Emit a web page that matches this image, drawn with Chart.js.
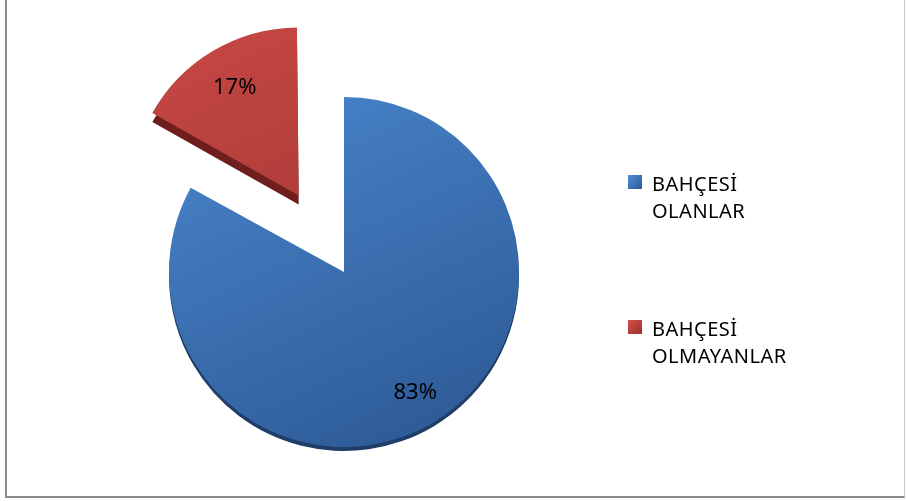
<!DOCTYPE html>
<html>
<head>
<meta charset="utf-8">
<script src="https://cdn.jsdelivr.net/npm/chart.js@4/dist/chart.umd.min.js"></script>
<style>
  body { margin: 0; background: #fff; }
  #wrap { position: relative; width: 907px; height: 501px; overflow: hidden; }
  #frame {
    position: absolute; left: 5px; top: -3px; width: 900px; height: 501px;
    border-left: 2px solid #8c8c8c; border-bottom: 2px solid #8c8c8c;
    border-right: 1px solid #c8c8c8; box-sizing: border-box;
  }
  #legend { position: absolute; left: 628px; top: 0; font-family: "Noto Sans", sans-serif; font-size: 20px; letter-spacing: 0.5px; color: #000; }
  .item { position: absolute; left: 0; width: 260px; line-height: 27px; }
  .box { position: absolute; left: 0; top: 5px; width: 14px; height: 14px; }
  .txt { position: absolute; left: 24px; top: 0; white-space: nowrap; }
</style>
</head>
<body>
<div id="wrap">
  <div id="frame"></div>
  <canvas id="pie" width="907" height="501"></canvas>
  <div id="legend"></div>
</div>
<script>
// Data
const categories = [['BAHÇESİ', 'OLANLAR'], ['BAHÇESİ', 'OLMAYANLAR']];
const shares = [83, 17];
const shareLabels = ['83%', '17%'];

const topColors = ['#5190da', '#d44e4b'];
const bottomColors = ['#2d5a96', '#9c3330'];
const sideColors = ['#1f3d68', '#6e1f1d'];

// gradient fill for each slice
function sliceFill(context) {
    const chart = context.chart;
    const area = chart.chartArea;
    if (!area) return topColors[context.dataIndex];
    const g = chart.ctx.createLinearGradient(area.left + 100, 20, area.left + 320, area.bottom);
    g.addColorStop(0, topColors[context.dataIndex]);
    g.addColorStop(1, bottomColors[context.dataIndex]);
    return g;
}

// the exploded slice sits a bit smaller (perspective); chart.js also grows it by offset/4
const shrinkPlugin = {
    id: 'shrink',
    afterUpdate(chart) {
        const arc = chart.getDatasetMeta(0).data[1];
        const grow = arc.options.offset / 4 * (1 - Math.sin(Math.min(Math.PI, arc.circumference)));
        arc.outerRadius = arc.outerRadius * 0.96 - grow;
    }
};

// dark copy of the slices, shifted down, for the 3D edge
const sidePlugin = {
    id: 'side',
    beforeDatasetsDraw(chart) {
        const ctx = chart.ctx;
        chart.getDatasetMeta(0).data.forEach((el, i) => {
            const bg = el.options.backgroundColor;
            ctx.save();
            ctx.translate(0, i === 1 ? 9 : 4);
            el.options.backgroundColor = sideColors[i];
            el.draw(ctx);
            el.options.backgroundColor = bg;
            ctx.restore();
        });
    }
};

// percentage labels inside slices
const labelPlugin = {
    id: 'pct',
    afterDatasetsDraw(chart) {
        const ctx = chart.ctx;
        ctx.save();
        ctx.font = '22px "Noto Sans"';
        ctx.fillStyle = '#000';
        ctx.textAlign = 'center';
        ctx.textBaseline = 'middle';
        chart.getDatasetMeta(0).data.forEach((el, i) => {
            const p = el.getProps(['x', 'y', 'startAngle', 'endAngle', 'outerRadius']);
            const mid = (p.startAngle + p.endAngle) / 2;
            const d = el.options.offset / 4 + p.outerRadius * 0.8;
            ctx.fillText(shareLabels[i], p.x + Math.cos(mid) * d, p.y + Math.sin(mid) * d);
        });
        ctx.restore();
    }
};

new Chart(document.getElementById('pie'), {
    type: 'pie',
    data: {
        labels: categories.map(c => c.join(' ')),
        datasets: [{
            data: shares,
            backgroundColor: sliceFill,
            borderWidth: 0,
            offset: [0, 356]
        }]
    },
    options: {
        responsive: false,
        animation: false,
        radius: 175,
        layout: { padding: { left: 0, right: 219, top: 43, bottom: 0 } },
        plugins: {
            legend: { display: false },
            tooltip: { enabled: false }
        }
    },
    plugins: [shrinkPlugin, sidePlugin, labelPlugin]
});

// legend, two lines per entry
const legendTops = [170, 315];
const legend = document.getElementById('legend');
categories.forEach((lines, i) => {
    const item = document.createElement('div');
    item.className = 'item';
    item.style.top = legendTops[i] + 'px';
    item.innerHTML = `<div class="box" style="background:linear-gradient(135deg, ${topColors[i]}, ${bottomColors[i]})"></div>` +
        `<div class="txt">${lines.join('<br>')}</div>`;
    legend.appendChild(item);
});
</script>
</body>
</html>
